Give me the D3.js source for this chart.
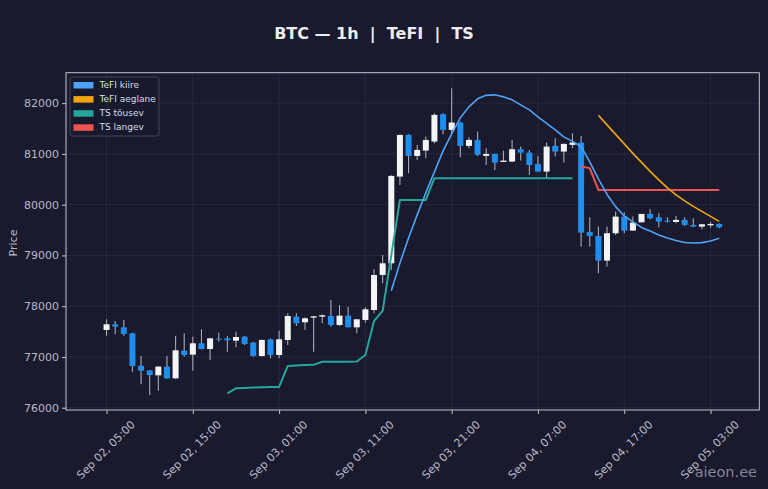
<!DOCTYPE html>
<html><head><meta charset="utf-8">
<script src="https://cdn.jsdelivr.net/npm/d3@7"></script>
<style>
html,body{margin:0;padding:0;background:#1a1a2e;}
svg{display:block;font-family:"DejaVu Sans",sans-serif;}
</style></head>
<body>
<svg id="chart" width="768" height="489"></svg>
<script>
// ---------------- data ----------------
const startTime = "2025-09-02T05:00:00Z";   // first hourly candle
const opens  = [77532,77643,77584,77466,76828,76736,76638,76809,76579,77124,77045,77269,77157,77361,77367,77321,77400,77282,77019,77347,77039,77334,77794,77683,77775,77794,77807,77630,77814,77584,77729,77925,78615,78845,80553,81375,80961,81066,81243,81782,81473,81618,81158,81276,80961,81000,80843,80849,81092,81027,80803,80652,81158,81046,81178,81224,79463,79384,78898,79437,79765,79489,79653,79818,79752,79686,79660,79700,79601,79568,79594,79620];
const highs  = [77742,77709,77729,77479,77026,76743,76822,77026,77413,77466,77400,77545,77375,77479,77413,77499,77413,77302,77347,77367,77518,77860,77860,77781,77801,77834,78123,78024,77991,77742,77978,78727,79009,80580,81380,81388,81178,81342,81802,81802,82295,81638,81329,81441,81112,81005,81066,81276,81145,81079,80961,81224,81309,81210,81408,81355,79752,79568,79568,79864,79844,79765,79818,79910,79831,79752,79778,79752,79732,79614,79660,79634];
const lows   = [77420,77446,77420,76710,76460,76250,76336,76570,76572,77006,76730,77150,76940,77302,77104,77190,77236,77006,77006,76973,76973,77236,77610,77531,77104,77663,77597,77610,77584,77466,77676,77860,78451,78714,80389,80619,80882,80915,81211,81388,81408,80934,81112,80961,80783,80685,80843,80843,80869,80586,80652,80520,80948,80829,81112,79174,79174,78648,78780,79404,79437,79489,79653,79713,79555,79647,79634,79581,79555,79515,79548,79535];
const closes = [77643,77597,77453,76822,76730,76644,76809,76579,77131,77039,77269,77157,77367,77341,77328,77393,77255,77019,77334,77039,77347,77807,77663,77761,77801,77821,77630,77814,77584,77742,77939,78615,78845,80567,81375,80961,81079,81276,81769,81473,81618,81158,81276,80981,81000,80829,80869,81092,81027,80783,80652,81145,81046,81197,81224,79450,79384,78898,79437,79765,79489,79647,79818,79732,79667,79667,79700,79601,79568,79614,79620,79555];

// TeFI kiire (fast) starts at candle 33
const tefiFastStart = 33;
const tefiFast = [78306,78852,79345,79799,80232,80646,81060,81395,81710,81927,82085,82154,82164,82124,82065,81965,81867,81730,81602,81474,81336,81247,81145,80843,80508,80202,79962,79778,79660,79552,79483,79404,79345,79296,79256,79246,79252,79286,79339];
// TeFI aeglane (slow) starts at candle 57
const tefiSlowStart = 57;
const tefiSlow = [81763,81572,81385,81198,81010,80833,80656,80488,80330,80192,80074,79966,79867,79769,79670];
// TS tõusev (up trend) starts at candle 14
const tsUpStart = 14;
const tsUp = [76284,76382,76390,76398,76405,76408,76410,76822,76831,76841,76845,76906,76906,76906,76906,76910,77039,77709,77906,79000,80093,80093,80093,80093,80522,80522,80522,80522,80522,80522,80522,80522,80522,80522,80522,80522,80522,80522,80522,80522,80522];
// TS langev (down trend) starts at candle 55
const tsDownStart = 55;
const tsDown = [80750,80720,80290,80290,80290,80290,80290,80290,80290,80290,80290,80290,80290,80290,80290,80290,80290];

const yTicks = [76000,77000,78000,79000,80000,81000,82000];
const xTickLabels = ["Sep 02, 05:00","Sep 02, 15:00","Sep 03, 01:00","Sep 03, 11:00","Sep 03, 21:00","Sep 04, 07:00","Sep 04, 17:00","Sep 05, 03:00"];
const xTickTimes  = ["2025-09-02T05:00:00Z","2025-09-02T15:00:00Z","2025-09-03T01:00:00Z","2025-09-03T11:00:00Z","2025-09-03T21:00:00Z","2025-09-04T07:00:00Z","2025-09-04T17:00:00Z","2025-09-05T03:00:00Z"];

const legendNames  = ["TeFI kiire","TeFI aeglane","TS tõusev","TS langev"];
const legendColors = ["#4ea3f5","#f2a60c","#26a69a","#ef5350"];

// ---------------- layout ----------------
const W = 768, H = 489;
const L = 66, R = 759.3, T = 72.7, B = 410;
const HOUR = 3600e3;
const t0 = new Date(startTime).getTime();
const times = opens.map((_, i) => new Date(t0 + i * HOUR));
const tLast = times[times.length - 1].getTime();

const x = d3.scaleUtc()
  .domain([new Date(t0 - 4.7 * HOUR), new Date(tLast + 4.65 * HOUR)])
  .range([L, R]);
const y = d3.scaleLinear().domain([75955, 82600]).range([B, T]);

const svg = d3.select("#chart");
svg.append("rect").attr("width", W).attr("height", H).attr("fill", "#1a1a2e");

const gridColor = "#2b2b44";
const g = svg.append("g");

// grid
g.selectAll("line.hg").data(yTicks).join("line")
  .attr("x1", L).attr("x2", R).attr("y1", d => y(d)).attr("y2", d => y(d))
  .attr("stroke", gridColor).attr("stroke-width", 0.8);
g.selectAll("line.vg").data(xTickTimes).join("line")
  .attr("x1", d => x(new Date(d))).attr("x2", d => x(new Date(d)))
  .attr("y1", T).attr("y2", B)
  .attr("stroke", gridColor).attr("stroke-width", 0.8);

// candles
const upColor = "#f4f4f6", downColor = "#1e8ef0", wickColor = "#a8a8b4";
const bw = 6;
const candles = g.append("g");
opens.forEach((o, i) => {
  const cx = x(times[i]);
  const c = closes[i];
  candles.append("line")
    .attr("x1", cx).attr("x2", cx)
    .attr("y1", y(highs[i])).attr("y2", y(lows[i]))
    .attr("stroke", wickColor).attr("stroke-width", 1.1);
  const top = y(Math.max(o, c)), bot = y(Math.min(o, c));
  candles.append("rect")
    .attr("x", cx - bw / 2).attr("width", bw)
    .attr("y", top).attr("height", Math.max(1, bot - top))
    .attr("fill", c >= o ? upColor : downColor);
});

// lines
function drawSeries(values, start, color, width) {
  const pts = values.map((v, k) => [x(times[start + k]), y(v)]);
  g.append("path").attr("d", d3.line()(pts))
    .attr("fill", "none").attr("stroke", color)
    .attr("stroke-width", width).attr("stroke-linejoin", "round");
}
drawSeries(tsUp, tsUpStart, legendColors[2], 2);
drawSeries(tsDown, tsDownStart, legendColors[3], 2);
drawSeries(tefiFast, tefiFastStart, legendColors[0], 1.6);
drawSeries(tefiSlow, tefiSlowStart, legendColors[1], 1.6);

// frame
svg.append("rect").attr("x", L).attr("y", T).attr("width", R - L).attr("height", B - T)
  .attr("fill", "none").attr("stroke", "#c4c4cc").attr("stroke-width", 1);

// axes
const labelColor = "#b8b8c6";
const yAxis = svg.append("g").attr("transform", `translate(${L},0)`)
  .call(d3.axisLeft(y).tickValues(yTicks).tickFormat(d3.format("d")).tickSize(4).tickPadding(3));
yAxis.select(".domain").remove();
yAxis.selectAll("line").attr("stroke", "#c4c4cc");
yAxis.selectAll("text").attr("fill", labelColor).style("font-size", "11px")
  .style("font-family", "DejaVu Sans");

const xAxis = svg.append("g").attr("transform", `translate(0,${B})`)
  .call(d3.axisBottom(x).tickValues(xTickTimes.map(d => new Date(d)))
    .tickFormat((d, i) => xTickLabels[i]).tickSize(4));
xAxis.select(".domain").remove();
xAxis.selectAll("line").attr("stroke", "#c4c4cc");
xAxis.selectAll("text")
  .attr("fill", labelColor).style("font-size", "11px").style("font-family", "DejaVu Sans")
  .attr("text-anchor", "middle").attr("dy", null).attr("y", null)
  .attr("dominant-baseline", "central")
  .attr("transform", "translate(-1,40) rotate(-45)");

// y label
svg.append("text").attr("transform", "translate(13.5,243) rotate(-90)")
  .attr("text-anchor", "middle").attr("dominant-baseline", "central")
  .attr("fill", labelColor).style("font-size", "11px").text("Price");

// title
svg.append("text").attr("x", 374).attr("y", 39).attr("text-anchor", "middle")
  .attr("fill", "#ececf2").style("font-size", "16px").style("font-weight", "bold")
  .style("white-space", "pre").attr("xml:space", "preserve")
  .text("BTC — 1h  |  TeFI  |  TS");

// legend
const lg = svg.append("g").attr("transform", "translate(70,77)");
lg.append("rect").attr("width", 89).attr("height", 59).attr("rx", 2)
  .attr("fill", "#1a1a2e").attr("fill-opacity", 0.85)
  .attr("stroke", "#4a4a5e").attr("stroke-width", 0.9);
legendNames.forEach((name, i) => {
  const cy = 8 + i * 14.1;
  lg.append("rect").attr("x", 3.5).attr("y", cy - 3).attr("width", 20).attr("height", 6.5)
    .attr("fill", legendColors[i]);
  lg.append("text").attr("x", 29.5).attr("y", cy).attr("dominant-baseline", "central")
    .attr("fill", "#dcdce4").style("font-size", "9px").text(name);
});

// watermark
svg.append("text").attr("x", 757).attr("y", 477).attr("text-anchor", "end")
  .attr("fill", "#9a9aaa").attr("fill-opacity", 0.85).style("font-size", "14.5px").text("aieon.ee");
</script>
</body></html>
